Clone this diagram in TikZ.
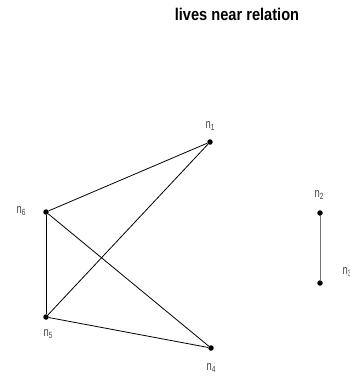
\documentclass[tikz,border=0pt]{standalone}
\usepackage{fontspec}
\setmainfont{Liberation Sans}
\newfontfamily\titlefont[FakeStretch=0.86]{Liberation Sans}
\newfontfamily\labfont[FakeStretch=0.72]{Liberation Sans}
\newcommand{\lab}[1]{n\raisebox{-2.5pt}{\fontsize{9}{10}\selectfont #1}}
\begin{document}
\begin{tikzpicture}[x=1pt,y=-1pt,
  vtx/.style={circle,fill=black,inner sep=0pt,minimum size=5.5pt},
  lbl/.style={font=\labfont\fontsize{13}{14}\selectfont,inner sep=0pt,text=black!75},
  edge/.style={draw=black,line width=0.8pt}]
\useasboundingbox (0,0) rectangle (350,376);
\node[font=\titlefont\bfseries\fontsize{17}{19}\selectfont,anchor=base] (title) at (237,20) {lives near relation};
\node[vtx] (n1) at (210,142) {};
\node[vtx] (n6) at (46,212) {};
\node[vtx] (n5) at (46,317) {};
\node[vtx] (n4) at (211,348) {};
\node[vtx] (n2) at (320,213) {};
\node[vtx] (n3) at (320,283) {};
\node[lbl] (l1) at (210,126) {\lab{1}};
\node[lbl] (l6) at (21,211) {\lab{6}};
\node[lbl] (l5) at (48,334) {\lab{5}};
\node[lbl] (l4) at (211,368) {\lab{4}};
\node[lbl] (l2) at (319,195) {\lab{2}};
\node[lbl] (l3) at (347,272) {\lab{3}};
\draw[edge] (n6) -- (n1);
\draw[edge] (n5) -- (n1);
\draw[edge] (n6) -- (n5);
\draw[edge] (n6) -- (n4);
\draw[edge] (n5) -- (n4);
\draw[edge,draw=black!55] (n2) -- (n3);
\end{tikzpicture}
\end{document}
